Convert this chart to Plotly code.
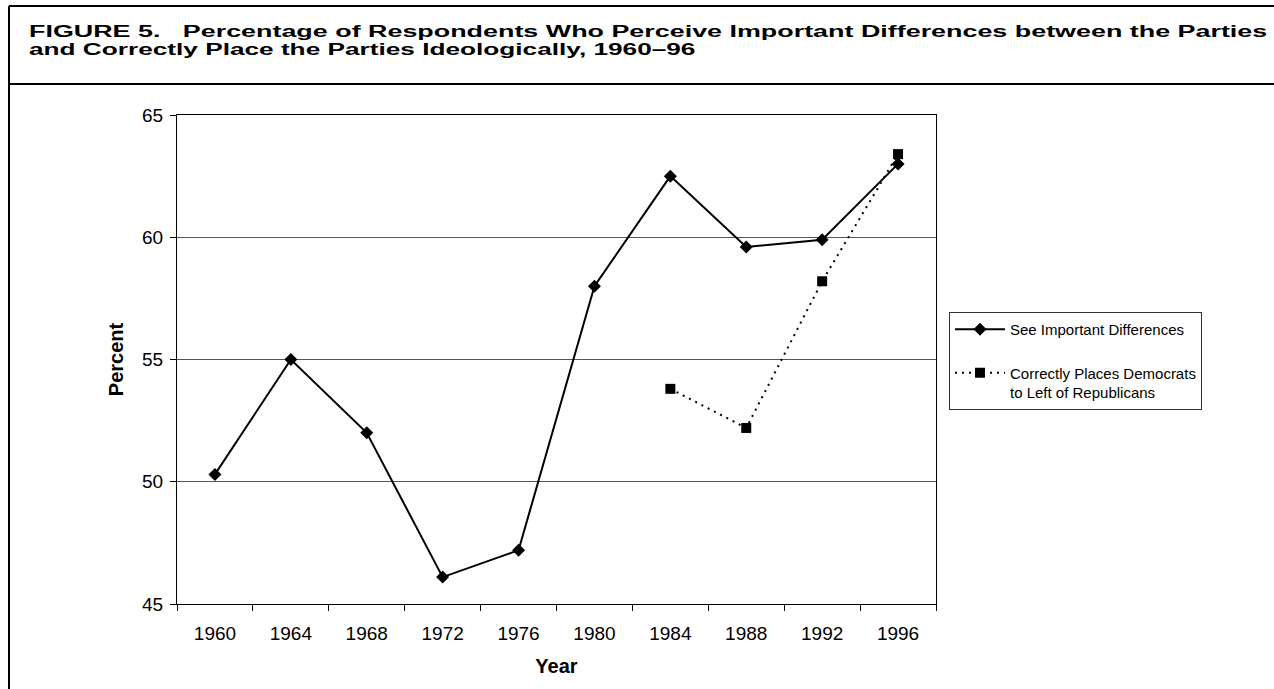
import plotly.graph_objects as go

years = ["1960", "1964", "1968", "1972", "1976", "1980", "1984", "1988", "1992", "1996"]
see_diff = [50.3, 55.0, 52.0, 46.1, 47.2, 58.0, 62.5, 59.6, 59.9, 63.0]
place_years = ["1984", "1988", "1992", "1996"]
place_correct = [53.8, 52.2, 58.2, 63.4]

title_line1 = "FIGURE 5.   Percentage of Respondents Who Perceive Important Differences between the Parties"
title_line2 = "and Correctly Place the Parties Ideologically, 1960–96"

W, H = 1274, 689
ML, MR, MT, MB = 177, W - 936, 115, H - 604
PW, PH = W - ML - MR, H - MT - MB

def px_x(p):
    return (p - ML) / PW

def px_y(p):
    return (H - MB - p) / PH

FONT = "Liberation Sans, Arial, Helvetica, sans-serif"

fig = go.Figure()
fig.add_trace(go.Scatter(
    x=years, y=see_diff, mode="lines+markers", name="See Important Differences",
    line=dict(color="black", width=2),
    marker=dict(symbol="diamond", size=10, color="black"),
    legendgroup="a",
))
fig.add_trace(go.Scatter(
    x=place_years, y=place_correct, mode="lines+markers",
    name="Correctly Places Democrats<br>to Left of Republicans",
    line=dict(color="black", width=2, dash="2px,5px"),
    marker=dict(symbol="square", size=10, color="black"),
    legendgroup="b",
))

fig.update_layout(
    width=W, height=H,
    margin=dict(l=ML, r=MR, t=MT, b=MB, autoexpand=False),
    paper_bgcolor="white", plot_bgcolor="white",
    font=dict(family=FONT, color="black", size=18),
    showlegend=True,
    legend=dict(
        x=px_x(949), y=px_y(312), xanchor="left", yanchor="top",
        bordercolor="#333", borderwidth=1, bgcolor="white",
        font=dict(size=15, family=FONT), tracegroupgap=21, valign="top",
        itemwidth=50,
    ),
    xaxis=dict(
        type="category", categoryorder="array", categoryarray=years,
        range=[-0.5, 9.5], showgrid=False, showline=True, linecolor="black",
        linewidth=1, mirror=True, ticks="outside", tickson="boundaries",
        ticklen=6, tickcolor="black", tickfont=dict(size=19),
        ticklabelstandoff=12,
        title=dict(text="<b>Year</b>", font=dict(size=20), standoff=16),
    ),
    yaxis=dict(
        range=[45, 65], dtick=5, showgrid=True, gridcolor="#555", gridwidth=1,
        showline=True, linecolor="black", linewidth=1, mirror=True,
        ticks="outside", ticklen=6, tickcolor="black", tickfont=dict(size=19),
        ticklabelstandoff=3,
        zeroline=False,
        title=dict(text="<b>Percent</b>", font=dict(size=20), standoff=13),
    ),
)

shapes = [
    dict(type="line", xref="paper", yref="paper", x0=px_x(9), x1=px_x(W), y0=px_y(6), y1=px_y(6),
         line=dict(color="black", width=2)),
    dict(type="line", xref="paper", yref="paper", x0=px_x(9), x1=px_x(W), y0=px_y(84), y1=px_y(84),
         line=dict(color="black", width=2)),
    dict(type="line", xref="paper", yref="paper", x0=px_x(9), x1=px_x(9), y0=px_y(6), y1=px_y(H),
         line=dict(color="black", width=2)),
]
fig.update_layout(shapes=shapes)

for txt, yc in [(title_line1, 31.0), (title_line2, 50.0)]:
    fig.add_annotation(
        xref="paper", yref="paper", x=px_x(27), y=px_y(yc), xanchor="left", yanchor="middle",
        align="left", showarrow=False,
        text=f"<b>{txt}</b>",
        font=dict(size=17, family=FONT, color="black"),
    )

post = """
document.body.style.margin='0';
document.body.style.padding='0';
var targets = [1239, 667];
var ts = document.querySelectorAll('.annotation-text');
ts.forEach(function(t, i){
  var w = t.getBBox().width;
  if (w > 0 && targets[i]) {
    var s = targets[i] / w;
    t.style.transformBox = 'fill-box';
    t.style.transformOrigin = '0% 50%';
    t.style.transform = 'scaleX(' + s + ')';
  }
});
"""

fig.write_html("out.html", post_script=post, config={"displayModeBar": False})
